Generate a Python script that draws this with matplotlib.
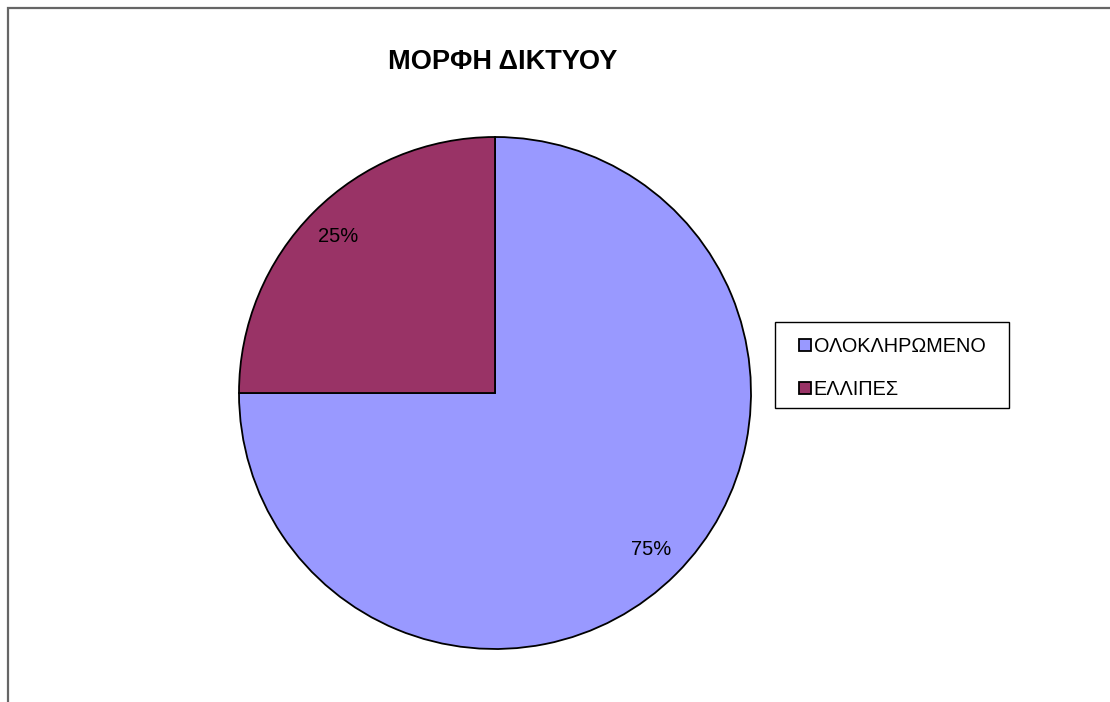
import matplotlib.pyplot as plt
from matplotlib.patches import Rectangle, Patch

plt.rcParams['font.family'] = ['Liberation Sans', 'DejaVu Sans']

TITLE = "ΜΟΡΦΗ ΔΙΚΤΥΟΥ"
categories = ["ΟΛΟΚΛΗΡΩΜΕΝΟ", "ΕΛΛΙΠΕΣ"]
shares = [75, 25]
colors = ["#9999FF", "#993366"]

W, H = 1110, 702
fig = plt.figure(figsize=(W / 100, H / 100), dpi=100)

# chart-area border (only left and top edges are visible in the image)
fig.patches.append(Rectangle((8 / W, -0.1), 1.2, 1 - 7.5 / H + 0.1,
                             transform=fig.transFigure, fill=False,
                             edgecolor="#666666", linewidth=1.6))

# pie placed so its center/radius match the reference
cx, cy, r = 495, 393, 256
ax = fig.add_axes([(cx - r) / W, (H - cy - r) / H, 2 * r / W, 2 * r / H])
wedges, _, autotexts = ax.pie(
    shares, colors=colors, startangle=90, counterclock=False,
    autopct="%d%%", pctdistance=0.865,
    wedgeprops=dict(edgecolor="black", linewidth=1.3),
    textprops=dict(fontsize=14.5, color="black"))
ax.set_xlim(-1.0, 1.0)
ax.set_ylim(-1.0, 1.0)

fig.text(503 / W, 1 - 62 / H, TITLE, ha="center", va="center",
         fontsize=19.5, fontweight="bold")

# legend box drawn separately (Excel-like padding), entries centred inside
lx0, ly0, lx1, ly1 = 775, 322, 1009, 408
fig.patches.append(Rectangle((lx0 / W, 1 - ly1 / H), (lx1 - lx0) / W, (ly1 - ly0) / H,
                             transform=fig.transFigure, facecolor="white",
                             edgecolor="black", linewidth=1.0, zorder=2))
handles = [Patch(facecolor=c, edgecolor="black", linewidth=1.3) for c in colors]
leg = fig.legend(handles, categories, loc="center",
                 bbox_to_anchor=((lx0 + lx1) / 2 / W, 1 - ((ly0 + ly1) / 2 + 3) / H),
                 frameon=False, fontsize=14.3,
                 handlelength=0.6, handleheight=0.6, handletextpad=0.15,
                 labelspacing=1.2, borderpad=0, borderaxespad=0)
leg.set_zorder(3)

fig.savefig("out.png", dpi=100)
